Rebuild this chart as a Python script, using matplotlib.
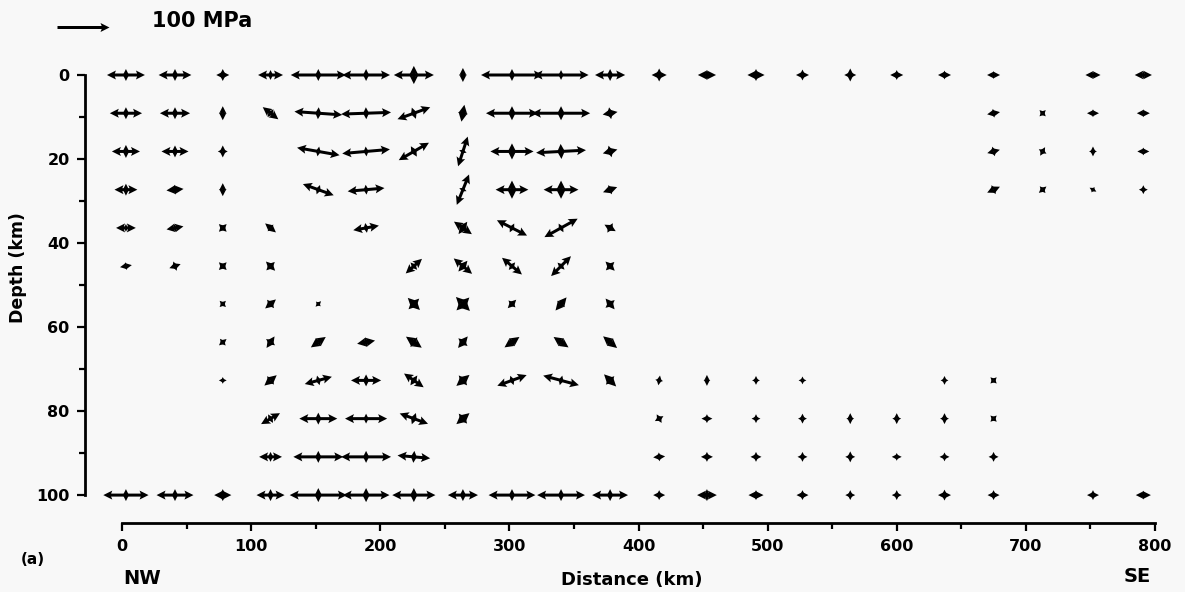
import numpy as np
import matplotlib
matplotlib.use('Agg')
import matplotlib.pyplot as plt

# grid of the cross-section (km)
col_km = [3, 41, 78, 115, 152, 189, 226, 264, 302, 340, 378, 416, 453, 491,
          527, 564, 600, 637, 675, 713, 752, 791]
depth_km = [0, 9.1, 18.2, 27.3, 36.4, 45.5, 54.5, 63.6, 72.7, 81.8, 90.9, 100]

# stress symbols: column index, row index, major / minor principal stress (MPa),
# azimuth of the major axis (deg, counter-clockwise from horizontal)
pt_col = [0, 1, 2, 3, 4, 5, 6, 7, 8, 9, 10, 11, 12, 13, 14, 15, 16, 17, 18, 20, 21,   # 0 km
          0, 1, 2, 3, 4, 5, 6, 7, 8, 9, 10, 18, 19, 20, 21,                           # 9 km
          0, 1, 2, 4, 5, 6, 7, 8, 9, 10, 18, 19, 20, 21,                              # 18 km
          0, 1, 2, 4, 5, 7, 8, 9, 10, 18, 19, 20, 21,                                 # 27 km
          0, 1, 2, 3, 5, 7, 8, 9, 10,                                                 # 36 km
          0, 1, 2, 3, 6, 7, 8, 9, 10,                                                 # 45 km
          2, 3, 4, 6, 7, 8, 9, 10,                                                    # 54 km
          2, 3, 4, 5, 6, 7, 8, 9, 10,                                                 # 63 km
          2, 3, 4, 5, 6, 7, 8, 9, 10, 11, 12, 13, 14, 17, 18,                         # 72 km
          3, 4, 5, 6, 7, 11, 12, 13, 14, 15, 16, 17, 18,                              # 81 km
          3, 4, 5, 6, 11, 12, 13, 14, 15, 16, 17, 18,                                 # 90 km
          0, 1, 2, 3, 4, 5, 6, 7, 8, 9, 10, 11, 12, 13, 14, 15, 16, 17, 18, 20, 21]   # 100 km
pt_row = ([0] * 21 + [1] * 15 + [2] * 14 + [3] * 13 + [4] * 9 + [5] * 9 + [6] * 8
          + [7] * 9 + [8] * 15 + [9] * 13 + [10] * 12 + [11] * 21)
s_major = [73, 63, 25, 48, 106, 92, 77, 15, 119, 106, 58, 29, 35, 33, 25, 23, 25, 25, 25, 29, 33,
           62, 58, 15, 38, 92, 96, 67, 33, 100, 112, 29, 25, 17, 23, 25,
           54, 52, 23, 83, 92, 67, 60, 83, 96, 29, 25, 19, 19, 23,
           44, 33, 25, 63, 71, 63, 63, 67, 29, 27, 19, 15, 17,
           38, 33, 21, 27, 50, 42, 65, 73, 25,
           23, 23, 21, 25, 42, 46, 50, 54, 25,
           17, 27, 15, 33, 38, 23, 33, 27,
           19, 27, 35, 35, 37, 29, 35, 35, 35,
           15, 31, 54, 58, 46, 33, 60, 71, 33, 19, 21, 17, 15, 17, 17,
           42, 73, 81, 58, 33, 19, 21, 17, 19, 21, 21, 21, 17,
           44, 96, 96, 63, 23, 23, 21, 19, 19, 19, 19, 19,
           87, 71, 33, 54, 110, 90, 83, 58, 90, 92, 69, 23, 38, 29, 23, 19, 19, 25, 23, 23, 29]
s_minor = [23, 23, 23, 19, 23, 23, 35, 27, 23, 19, 23, 25, 19, 23, 21, 25, 19, 17, 15, 15, 15,
           23, 23, 27, 19, 23, 23, 23, 19, 27, 27, 23, 17, 17, 15, 15,
           25, 23, 19, 19, 19, 23, 15, 31, 29, 23, 19, 17, 15, 15,
           23, 19, 15, 19, 19, 15, 35, 35, 19, 19, 17, 12, 17,
           15, 15, 21, 17, 19, 29, 19, 19, 21,
           15, 19, 21, 23, 19, 27, 19, 19, 23,
           17, 21, 13, 29, 35, 19, 19, 23,
           17, 21, 19, 19, 23, 23, 19, 19, 19,
           13, 21, 19, 23, 23, 25, 19, 19, 23, 15, 13, 15, 15, 15, 17,
           19, 23, 19, 23, 25, 19, 17, 17, 17, 15, 17, 17, 17,
           19, 23, 23, 23, 17, 19, 19, 19, 21, 15, 17, 19,
           23, 23, 23, 23, 27, 27, 27, 23, 23, 23, 23, 19, 23, 19, 19, 19, 19, 21, 19, 19, 17]
azimuth = [0, 0, 0, 0, 0, 0, 0, 0, 0, 0, 0, 0, 0, 0, 0, 0, 0, 0, 0, 0, 0,
           0, 0, 0, -38, -4, 2, 20, 80, 0, 0, 10, 10, 45, 0, 0,
           0, 0, 90, -10, 5, 30, 72, 0, 3, 15, 15, 60, 90, 0,
           0, 5, 90, -20, 5, 68, 0, 0, 20, 25, 40, -30, 0,
           0, 10, 45, -40, 10, -35, -27, 29, -30,
           10, 20, 45, -45, 42, -40, -40, 45, -45,
           45, 40, 45, -45, -45, 45, 50, -50,
           40, 55, 35, 10, -35, 50, 35, -35, -40,
           0, 40, 15, 0, -35, 40, 20, -15, -45, 80, 90, 90, 0, 90, 45,
           30, 0, 0, -20, 40, 30, 0, 0, 90, 90, 90, 90, 45,
           0, 0, 0, -5, 5, 0, 0, 0, 0, 0, 0, 0,
           0, 0, 0, 0, 0, 0, 0, 0, 0, 0, 0, 0, 0, 0, 0, 0, 0, 0, 0, 0, 0]

# each symbol = two crossing double-headed arrows centred on the grid node
xs, ys, us, vs = [], [], [], []
for c, r, a, b, ang in zip(pt_col, pt_row, s_major, s_minor, azimuth):
    t = np.radians(ang)
    for sgn in (1, -1):
        for du, dv in ((a / 2 * np.cos(t), a / 2 * np.sin(t)),
                       (-b / 2 * np.sin(t), b / 2 * np.cos(t))):
            xs.append(col_km[c])
            ys.append(depth_km[r])
            us.append(sgn * du)
            vs.append(sgn * dv)

fig = plt.figure(figsize=(11.85, 5.92), dpi=100, facecolor='#f8f8f8')
ax = fig.add_axes([30 / 1185, 1 - 535 / 592, 1150 / 1185, 490 / 592])
ax.set_facecolor('#f8f8f8')

q = ax.quiver(xs, ys, us, vs, angles='uv', scale_units='inches', scale=192.3,
              units='inches', width=0.03, headwidth=3.0, headlength=3.0,
              headaxislength=2.6, minshaft=1, minlength=0.5, pivot='tail',
              color='black')

ax.set_xlim(-71.3, 819.4)
ax.set_ylim(109.5, -7.14)

for s in ['top', 'right']:
    ax.spines[s].set_visible(False)
ax.spines['left'].set_position(('data', -28.7))
ax.spines['left'].set_bounds(0, 100)
ax.spines['bottom'].set_position(('data', 106.7))
ax.spines['bottom'].set_bounds(0, 800)
for s in ['left', 'bottom']:
    ax.spines[s].set_linewidth(2)

ax.set_xticks(np.arange(0, 801, 100))
ax.set_xticks(np.arange(50, 800, 100), minor=True)
ax.set_yticks(np.arange(0, 101, 20))
ax.set_yticks(np.arange(10, 100, 20), minor=True)
ax.tick_params(which='major', direction='out', length=6, width=1.6, pad=5,
               labelsize=11.5)
ax.tick_params(which='minor', direction='out', length=4, width=1.6)
for lab in ax.get_xticklabels() + ax.get_yticklabels():
    lab.set_fontweight('bold')

fig.text(18 / 1185, 1 - 268 / 592, 'Depth (km)', rotation=90, ha='center',
         va='center', fontsize=12.5, fontweight='bold')
fig.text(632 / 1185, 1 - 580 / 592, 'Distance (km)', ha='center', va='center',
         fontsize=13, fontweight='bold')
fig.text(142 / 1185, 1 - 578 / 592, 'NW', ha='center', va='center',
         fontsize=14, fontweight='bold')
fig.text(1137 / 1185, 1 - 577 / 592, 'SE', ha='center', va='center',
         fontsize=14, fontweight='bold')
fig.text(33 / 1185, 1 - 560 / 592, '(a)', ha='center', va='center',
         fontsize=11, fontweight='bold')

# scale arrow
ax.quiverkey(q, 109 / 1185, 1 - 27 / 592, 100, '', labelpos='E',
             coordinates='figure', color='black')
fig.text(152 / 1185, 1 - 27 / 592, '100 MPa', ha='left', va='baseline',
         fontsize=15, fontweight='bold')

fig.savefig('out.png', dpi=100, facecolor=fig.get_facecolor())
